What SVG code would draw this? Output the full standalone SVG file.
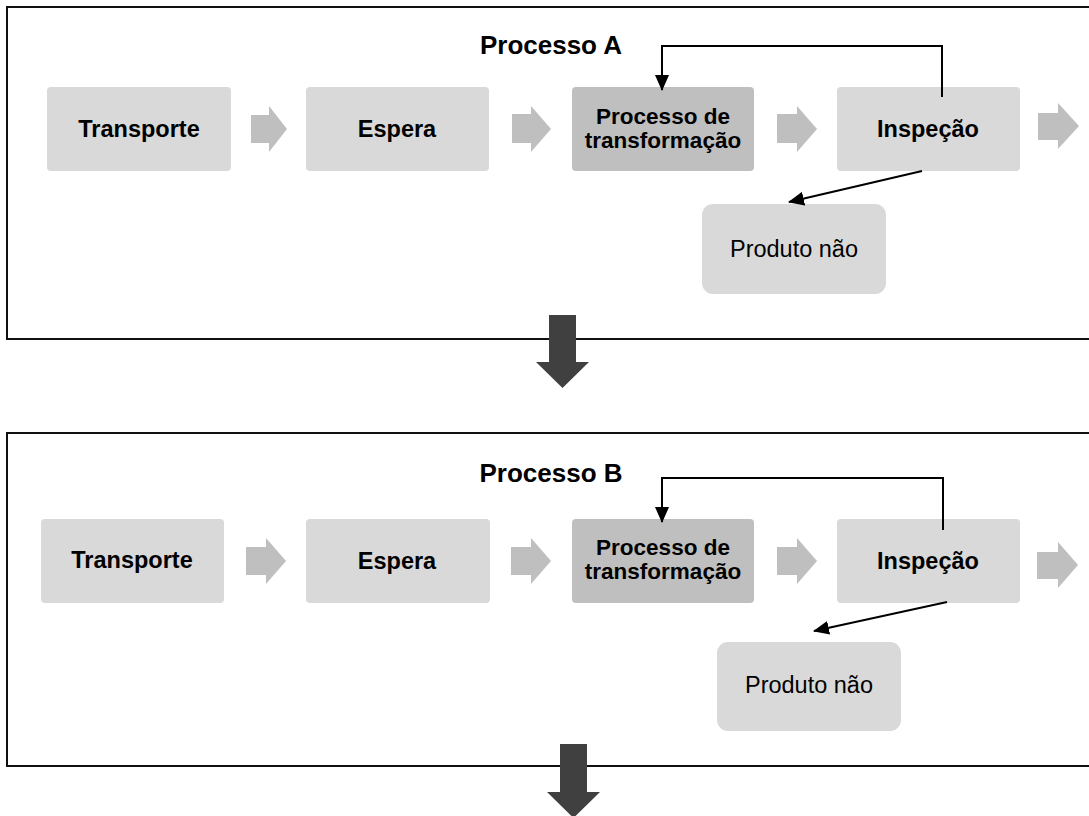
<svg xmlns="http://www.w3.org/2000/svg" width="1089" height="816" viewBox="0 0 1089 816">
<defs>
<style>
.panel{fill:#fff;stroke:#111;stroke-width:2}
.box{fill:#d9d9d9}
.dark{fill:#bfbfbf}
.flow{fill:#bfbfbf}
.down{fill:#404040}
.lbl{font-family:"Liberation Sans",Arial,sans-serif;font-size:23.5px;font-weight:bold;fill:#000;text-anchor:middle}
.lbl2{font-family:"Liberation Sans",Arial,sans-serif;font-size:22.5px;font-weight:bold;fill:#000;text-anchor:middle}
.reg{font-family:"Liberation Sans",Arial,sans-serif;font-size:23.5px;fill:#000;text-anchor:middle}
.title{font-family:"Liberation Sans",Arial,sans-serif;font-size:26px;font-weight:bold;fill:#000;text-anchor:middle}
.conn{fill:none;stroke:#000;stroke-width:2}
</style>
<marker id="ah" markerUnits="userSpaceOnUse" markerWidth="16" markerHeight="14" refX="15" refY="7" orient="auto">
<path d="M0,0 L16,7 L0,14 z" fill="#000"/>
</marker>
</defs>
<rect width="1089" height="816" fill="#fff"/>

<!-- Panel A -->
<g id="panelA">
<rect class="panel" x="7" y="7" width="1095" height="332"/>
<text class="title" x="551" y="54">Processo A</text>
</g>
<g id="A-transporte"><rect class="box" x="47" y="87" width="184" height="84" rx="4"/><text class="lbl" x="139" y="137">Transporte</text></g>
<g id="A-espera"><rect class="box" x="306" y="87" width="183" height="84" rx="4"/><text class="lbl" x="397" y="137">Espera</text></g>
<g id="A-processo"><rect class="dark" x="572" y="87" width="182" height="84" rx="4"/><text class="lbl2" x="663" y="124">Processo de</text><text class="lbl2" x="663" y="148">transformação</text></g>
<g id="A-inspecao"><rect class="box" x="837" y="87" width="183" height="84" rx="4"/><text class="lbl" x="928" y="137">Inspeção</text></g>
<g id="A-produto"><rect class="box" x="702" y="204" width="184" height="90" rx="11"/><text class="reg" x="794" y="257">Produto não</text></g>

<!-- Panel B -->
<g id="panelB">
<rect class="panel" x="7" y="433" width="1095" height="333"/>
<text class="title" x="551" y="482">Processo B</text>
</g>
<g id="B-transporte"><rect class="box" x="41" y="519" width="183" height="84" rx="4"/><text class="lbl" x="132" y="568">Transporte</text></g>
<g id="B-espera"><rect class="box" x="306" y="519" width="184" height="84" rx="4"/><text class="lbl" x="397" y="569">Espera</text></g>
<g id="B-processo"><rect class="dark" x="572" y="519" width="182" height="84" rx="4"/><text class="lbl2" x="663" y="555">Processo de</text><text class="lbl2" x="663" y="579">transformação</text></g>
<g id="B-inspecao"><rect class="box" x="837" y="519" width="183" height="84" rx="4"/><text class="lbl" x="928" y="569">Inspeção</text></g>
<g id="B-produto"><rect class="box" x="717" y="642" width="184" height="89" rx="11"/><text class="reg" x="809" y="693">Produto não</text></g>

<!-- Connectors -->
<g id="connectors">
<!-- flow arrows A -->
<polygon class="flow" points="251,115 269,115 269,106 287,129 269,152 269,143 251,143"/>
<polygon class="flow" points="512,114 531,114 531,106 551,129 531,152 531,143 512,143"/>
<polygon class="flow" points="777,114 797,114 797,106 817,129 797,152 797,143 777,143"/>
<polygon class="flow" points="1038,113 1058,113 1058,103 1079,126 1058,149 1058,140 1038,140"/>
<!-- flow arrows B -->
<polygon class="flow" points="246,547 266,547 266,538 286,561 266,584 266,575 246,575"/>
<polygon class="flow" points="511,547 531,547 531,538 551,561 531,584 531,575 511,575"/>
<polygon class="flow" points="777,547 797,547 797,538 817,561 797,584 797,575 777,575"/>
<polygon class="flow" points="1037,552 1058,552 1058,542 1078,565 1058,588 1058,579 1037,579"/>
<!-- feedback A -->
<polyline class="conn" points="942,97 942,46 662,46 662,90" marker-end="url(#ah)"/>
<line class="conn" x1="922" y1="171" x2="789" y2="202" marker-end="url(#ah)"/>
<!-- feedback B -->
<polyline class="conn" points="943,530 943,478 662,478 662,522" marker-end="url(#ah)"/>
<line class="conn" x1="947" y1="602" x2="814" y2="631" marker-end="url(#ah)"/>
<!-- down arrows -->
<polygon class="down" points="549,315 576,315 576,362 589,362 562.5,388 536,362 549,362"/>
<polygon class="down" points="560,744 587,744 587,792 600,792 573.5,818 547,792 560,792"/>
</g>
</svg>
